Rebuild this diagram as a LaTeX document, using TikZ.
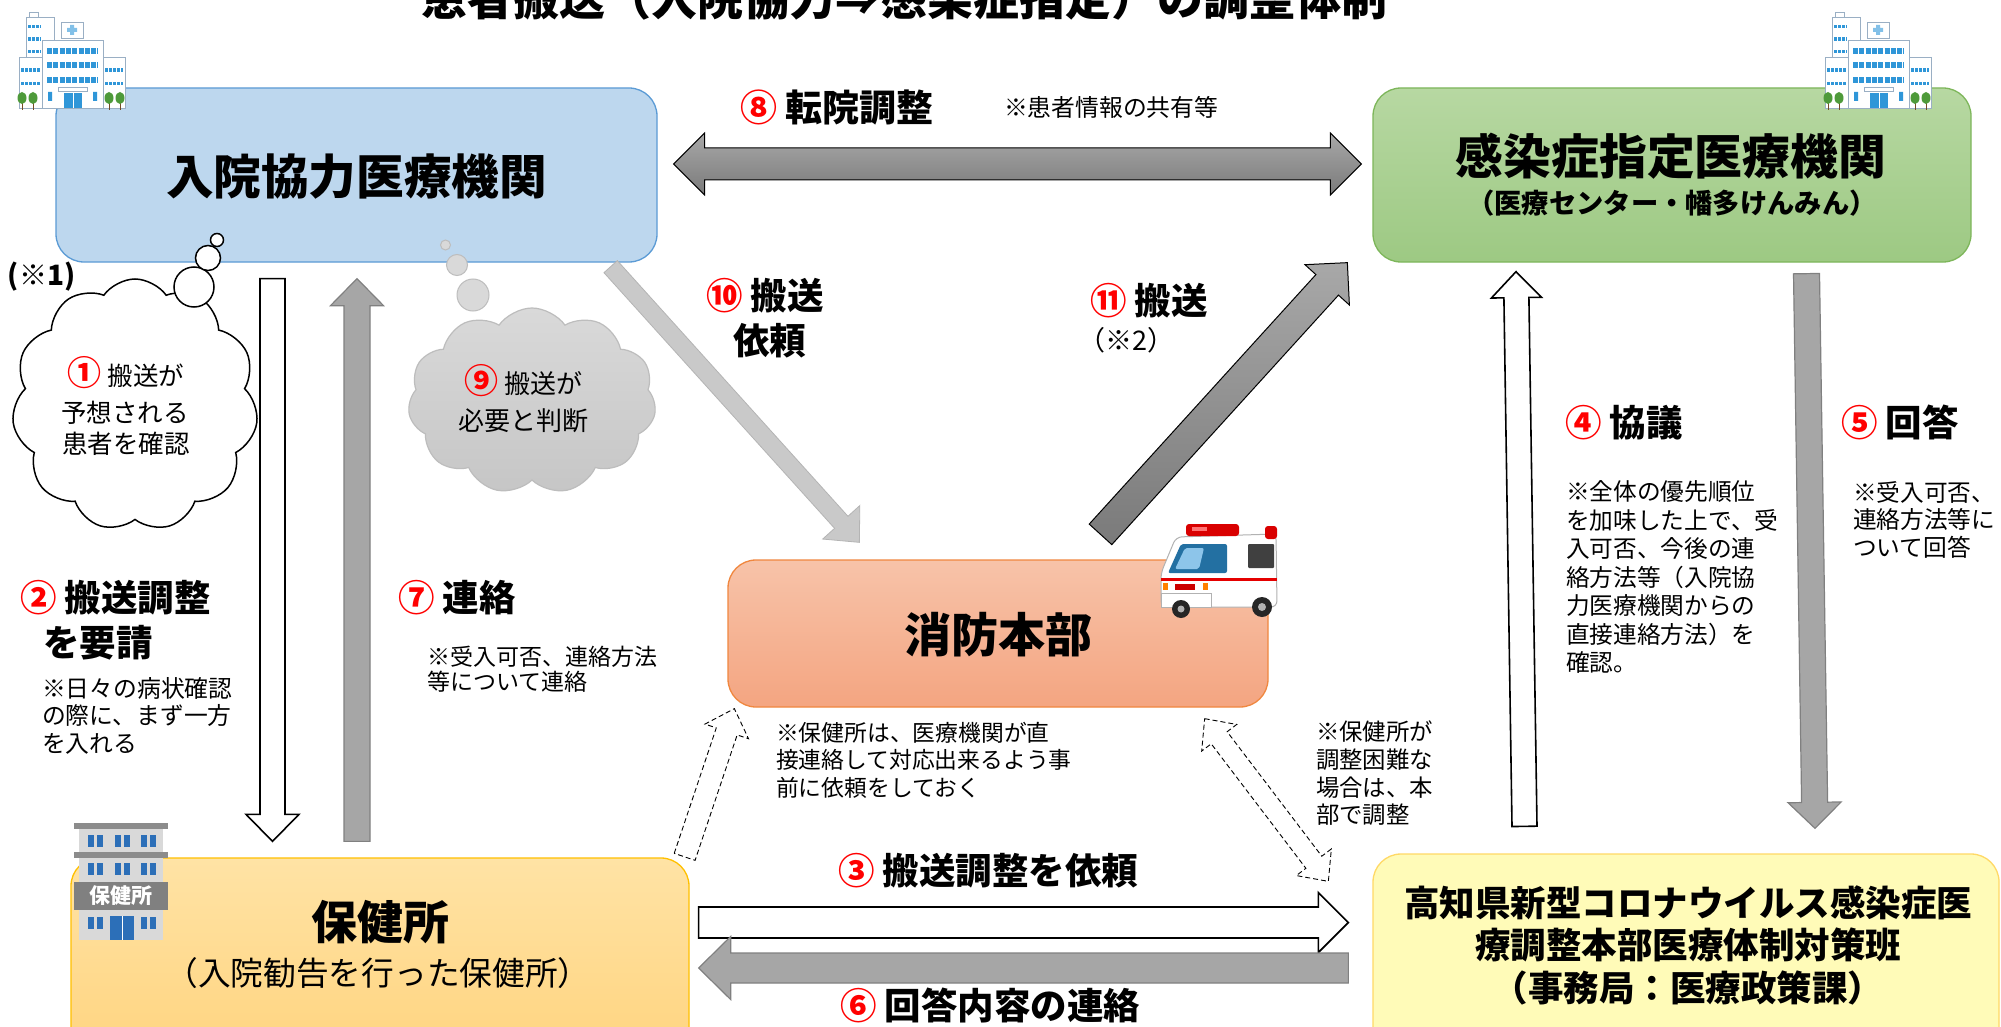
\documentclass[tikz,border=0pt]{standalone}
\usepackage{fontspec}
\setmainfont{Noto Sans CJK JP}
\usetikzlibrary{calc,shapes.symbols}

\definecolor{hospFill}{HTML}{BDD7EE}
\definecolor{hospLine}{HTML}{5B9BD5}
\definecolor{desigTop}{HTML}{B7D8A2}
\definecolor{desigBot}{HTML}{9DC983}
\definecolor{desigLine}{HTML}{7DB65A}
\definecolor{fireTop}{HTML}{F7C3A9}
\definecolor{fireBot}{HTML}{F4A581}
\definecolor{fireLine}{HTML}{F0873F}
\definecolor{hcTop}{HTML}{FFE3A5}
\definecolor{hcBot}{HTML}{FFD47F}
\definecolor{hcLine}{HTML}{FFC000}
\definecolor{prefFill}{HTML}{FFFBB8}
\definecolor{prefLine}{HTML}{FFD966}
\definecolor{numRed}{HTML}{FF0000}
\definecolor{midGray}{HTML}{A6A6A6}
\definecolor{midGrayLine}{HTML}{808080}
\definecolor{darkTop}{HTML}{A8A8A8}
\definecolor{darkBot}{HTML}{7A7A7A}
\definecolor{lightGray}{HTML}{C9C9C9}
\definecolor{lightGrayLine}{HTML}{B4B4B4}
\definecolor{cloudTop}{HTML}{D9D9D9}
\definecolor{cloudBot}{HTML}{C6C6C6}
\definecolor{cloudGrayLine}{HTML}{BDBDBD}
\definecolor{winBlue}{HTML}{2F96D8}
\definecolor{iconLine}{HTML}{9AAFC4}
\definecolor{treeGreen}{HTML}{4E9A3A}
\definecolor{hcGray}{HTML}{D9D9D9}
\definecolor{hcDark}{HTML}{8C8C8C}
\definecolor{hcBlue}{HTML}{2C6FB8}

% red circled step number
\newcommand\cnum[1]{\textcolor{numRed}{#1}}
% block arrow: style, tail, tip, shaft half width, head half width, head length
\newcommand\blockarrow[6]{%
  \coordinate (ba-h) at ($(#3)!#6!(#2)$);
  \path[#1] ($(#2)!#4!90:(#3)$) -- ($(ba-h)!#4!90:(#3)$) -- ($(ba-h)!#5!90:(#3)$) -- (#3)
    -- ($(ba-h)!#5!-90:(#3)$) -- ($(ba-h)!#4!-90:(#3)$) -- ($(#2)!#4!-90:(#3)$) -- cycle;}
% block arrow with a head at both ends
\newcommand\dblarrow[6]{%
  \coordinate (da-a) at ($(#2)!#6!(#3)$);
  \coordinate (da-b) at ($(#3)!#6!(#2)$);
  \path[#1] (#2) -- ($(da-a)!#5!90:(#3)$) -- ($(da-a)!#4!90:(#3)$) -- ($(da-b)!#4!90:(#3)$)
    -- ($(da-b)!#5!90:(#3)$) -- (#3) -- ($(da-b)!#5!-90:(#3)$) -- ($(da-b)!#4!-90:(#3)$)
    -- ($(da-a)!#4!-90:(#3)$) -- ($(da-a)!#5!-90:(#3)$) -- cycle;}
% hospital building, local frame 108 x 98
\newcommand\hospitalicon{%
  \draw[iconLine, fill=white, line width=0.6pt] (10,0) rectangle (19,5);
  \draw[iconLine, fill=white, line width=0.6pt] (7,5) rectangle (35,96);
  \draw[iconLine, fill=white, line width=0.6pt] (42,10) rectangle (64,26);
  \fill[winBlue!60] (51,13) rectangle (55,23) (48,16) rectangle (58,20);
  \draw[iconLine, fill=white, line width=0.6pt] (0,45) rectangle (23,96);
  \draw[iconLine, fill=white, line width=0.6pt] (84,45) rectangle (106,96);
  \draw[iconLine, fill=white, line width=0.6pt] (23,28) rectangle (84,96);
  \foreach \yy in {14.5,27,39.5} {\draw[winBlue, line width=3.5pt, dash pattern=on 3pt off 1pt] (9,\yy) -- (22,\yy);}
  \foreach \yy in {39,53.5,68} {\draw[winBlue, line width=6pt, dash pattern=on 5pt off 1.3pt] (28,\yy) -- (79,\yy);}
  \foreach \yy in {58,71.5} {\draw[winBlue, line width=3.5pt, dash pattern=on 3pt off 1pt] (2,\yy) -- (21,\yy);
                             \draw[winBlue, line width=3.5pt, dash pattern=on 3pt off 1pt] (86,\yy) -- (104,\yy);}
  \draw[iconLine, fill=white, line width=0.6pt] (39,75) rectangle (68,79);
  \fill[winBlue] (45,81) rectangle (63,96);
  \draw[white, line width=0.6pt] (54,81) -- (54,96);
  \fill[winBlue] (29,80) rectangle (33,89) (74,80) rectangle (78,89);
  \foreach \xx in {3,14,90,101} {\draw[brown!60!black, line width=1pt] (\xx,88) -- (\xx,98);
                                 \fill[treeGreen] (\xx,86) ellipse[x radius=4.5, y radius=6];}
}

\begin{document}
\begin{tikzpicture}[x=1pt,y=-1pt,
  txt/.style={inner sep=0pt, outer sep=0pt},
  box/.style={rounded corners=28pt, line width=1.3pt, inner sep=0pt},
  whiteArrow/.style={fill=white, draw=black, line width=1.6pt},
  grayArrow/.style={fill=midGray, draw=midGrayLine, line width=1.2pt},
  darkArrow/.style={top color=darkTop, bottom color=darkBot, draw=black, line width=1pt},
  lightArrow/.style={fill=lightGray, draw=lightGrayLine, line width=0.8pt},
  dashArrow/.style={fill=white, draw=black, line width=0.9pt, dash pattern=on 5pt off 3pt},
  lbl/.style={txt, anchor=base west, font=\bfseries\fontsize{36.5}{44}\selectfont},
  note/.style={txt, anchor=north west, align=left},
  bubbleW/.style={circle, draw=black, fill=white, line width=1.5pt, inner sep=0pt},
  bubbleG/.style={circle, draw=cloudGrayLine, fill=cloudTop, line width=1pt, inner sep=0pt},
]
\useasboundingbox (0,0) rectangle (2001,1027);
\fill[white] (0,0) rectangle (2001,1027);

% title (runs off the top edge)
\node[txt, anchor=base, font=\bfseries\fontsize{46}{50}\selectfont] (title) at (904,16)
  {患者搬送（入院協力⇒感染症指定）の調整体制};

% organisations
\node[box, draw=hospLine, fill=hospFill, minimum width=601pt, minimum height=174pt] (hosp) at (356.5,175) {};
\node[box, draw=desigLine, top color=desigTop, bottom color=desigBot, minimum width=598pt, minimum height=174pt] (desig) at (1672,175) {};
\node[box, draw=fireLine, top color=fireTop, bottom color=fireBot, minimum width=540pt, minimum height=147pt] (fire) at (998,633.5) {};
\node[box, draw=hcLine, top color=hcTop, bottom color=hcBot, minimum width=618pt, minimum height=202pt] (hc) at (380,959) {};
\node[box, draw=prefLine, fill=prefFill, minimum width=626pt, minimum height=206pt] (pref) at (1686,957) {};

\node[txt, anchor=base, font=\bfseries\fontsize{47.6}{50}\selectfont] (hosp-t) at (356.5,195) {入院協力医療機関};
\node[txt, anchor=base, font=\bfseries\fontsize{47.8}{50}\selectfont] (desig-t) at (1671,175) {感染症指定医療機関};
\node[txt, anchor=base, font=\bfseries\fontsize{27.3}{30}\selectfont] (desig-s) at (1672,213) {（医療センター・幡多けんみん）};
\node[txt, anchor=base, font=\bfseries\fontsize{47}{50}\selectfont] (fire-t) at (998,652) {消防本部};
\node[txt, anchor=base, font=\bfseries\fontsize{46}{50}\selectfont] (hc-t) at (380,939.5) {保健所};
\node[txt, anchor=base, font=\fontsize{32.7}{36}\selectfont] (hc-s) at (378,985) {（入院勧告を行った保健所）};
\node[txt, align=center, font=\bfseries\fontsize{35.5}{42.5}\selectfont] (pref-t) at (1688,945)
  {高知県新型コロナウイルス感染症医\\療調整本部医療体制対策班\\（事務局：医療政策課）};

% arrow end points
\coordinate (a8-l) at ($(hosp.east)+(16,-11)$);
\coordinate (a8-r) at ($(desig.west)+(-11,-11)$);
\coordinate (a2-s) at ($(hosp.south)+(-84,16)$);
\coordinate (a2-e) at ($(hc.north)+(-107.5,-16)$);
\coordinate (a7-s) at ($(hc.north)+(-23,-16)$);
\coordinate (a7-e) at ($(hosp.south)+(0.5,16)$);
\coordinate (a4-s) at ($(pref.north)+(-161.5,-27)$);
\coordinate (a4-e) at ($(desig.south)+(-156,9)$);
\coordinate (a5-s) at ($(desig.south)+(134.5,11)$);
\coordinate (a5-e) at ($(pref.north)+(129,-25)$);
\coordinate (a3-s) at ($(hc.east)+(9,-36.5)$);
\coordinate (a3-e) at ($(pref.west)+(-24,-34.5)$);
\coordinate (a6-s) at ($(pref.west)+(-24,11)$);
\coordinate (a6-e) at ($(hc.east)+(9,9)$);
\coordinate (a10-s) at ($(hosp.south east)+(-47,4)$);
\coordinate (a10-e) at ($(fire.north west)+(132,-17)$);
\coordinate (a11-s) at ($(fire.north)+(102.5,-25)$);
\coordinate (a11-e) at ($(desig.south west)+(-25,0)$);
\coordinate (ad1-s) at ($(hc.north east)+(-5,-0.5)$);
\coordinate (ad1-e) at ($(fire.south west)+(7,1)$);
\coordinate (ad2-s) at ($(fire.south east)+(-64,11)$);
\coordinate (ad2-e) at ($(pref.north west)+(-44,28)$);

% arrows
\dblarrow{darkArrow}{a8-l}{a8-r}{16pt}{31pt}{31pt}
\blockarrow{whiteArrow}{a2-s}{a2-e}{12.5pt}{26.5pt}{27pt}
\blockarrow{grayArrow}{a7-s}{a7-e}{13pt}{26.5pt}{27pt}
\blockarrow{whiteArrow}{a4-s}{a4-e}{12.5pt}{25pt}{26pt}
\blockarrow{grayArrow}{a5-s}{a5-e}{13pt}{26.5pt}{26pt}
\blockarrow{whiteArrow}{a3-s}{a3-e}{15.5pt}{30pt}{30pt}
\blockarrow{grayArrow}{a6-s}{a6-e}{15pt}{31.5pt}{32pt}
\blockarrow{lightArrow}{a10-s}{a10-e}{9pt}{25pt}{27pt}
\blockarrow{darkArrow}{a11-s}{a11-e}{15.25pt}{30pt}{30pt}
\blockarrow{dashArrow}{ad1-s}{ad1-e}{11pt}{23pt}{24pt}
\dblarrow{dashArrow}{ad2-s}{ad2-e}{10pt}{22pt}{24pt}

% thought clouds
\node[cloud, cloud puffs=11, cloud puff arc=110, aspect=0.98, minimum width=246pt, minimum height=252pt,
      draw=black, line width=1.5pt, fill=white, inner sep=0pt] (cloud1) at (135,405) {};
\node[bubbleW, minimum size=40pt] (b1c) at (194,287) {};
\node[bubbleW, minimum size=25pt] (b1b) at (208,258) {};
\node[bubbleW, minimum size=13pt] (b1a) at (217,240) {};
\node[cloud, cloud puffs=11, cloud puff arc=110, aspect=1.33, minimum width=248pt, minimum height=186pt,
      draw=cloudGrayLine, line width=1.2pt, top color=cloudTop, bottom color=cloudBot, inner sep=0pt] (cloud9) at (532,401) {};
\node[bubbleG, minimum size=32pt] (b9c) at (473,295) {};
\node[bubbleG, minimum size=21pt] (b9b) at (457,265) {};
\node[bubbleG, minimum size=10pt] (b9a) at (445.5,245) {};

\node[txt, anchor=base, font=\fontsize{25.5}{30}\selectfont] (c1-a) at (126,385)
  {{\bfseries\fontsize{34}{36}\selectfont\cnum{①}} 搬送が};
\node[txt, anchor=base, font=\fontsize{25.5}{30}\selectfont] (c1-b) at (125,422) {予想される};
\node[txt, anchor=base, font=\fontsize{25.5}{30}\selectfont] (c1-c) at (126,453) {患者を確認};
\node[txt, anchor=base, font=\fontsize{26}{30}\selectfont] (c9-a) at (523.5,393)
  {{\bfseries\fontsize{34}{36}\selectfont\cnum{⑨}} 搬送が};
\node[txt, anchor=base, font=\fontsize{26}{30}\selectfont] (c9-b) at (523.5,430) {必要と判断};
\node[txt, anchor=base west, font=\bfseries\fontsize{28}{30}\selectfont] (ref1) at (8,285) {(※1)};

% step labels and notes
\node[lbl, font=\bfseries\fontsize{37}{44}\selectfont] (l8) at (740,122) {\cnum{⑧} 転院調整};
\node[txt, anchor=base west, font=\fontsize{23.8}{28}\selectfont] (n8) at (1004,117) {※患者情報の共有等};
\node[lbl] (l10a) at (706,309) {\cnum{⑩} 搬送};
\node[lbl] (l10b) at (733,354) {依頼};
\node[lbl] (l11) at (1090,314) {\cnum{⑪} 搬送};
\node[txt, anchor=base west, font=\fontsize{27}{30}\selectfont] (ref2) at (1078,350) {（※2）};
\node[lbl] (l2a) at (20,611) {\cnum{②} 搬送調整};
\node[lbl] (l2b) at (43,656) {を要請};
\node[note, font=\fontsize{23.8}{27.5}\selectfont] (n2) at (42,677)
  {※日々の病状確認\\の際に、まず一方\\を入れる};
\node[lbl] (l7) at (398,611) {\cnum{⑦} 連絡};
\node[note, font=\fontsize{23}{25.5}\selectfont] (n7) at (427,646)
  {※受入可否、連絡方法\\等について連絡};
\node[lbl] (l3) at (838,884) {\cnum{③} 搬送調整を依頼};
\node[lbl] (l6) at (840,1019) {\cnum{⑥} 回答内容の連絡};
\node[lbl] (l4) at (1565,436) {\cnum{④} 協議};
\node[note, font=\fontsize{23.7}{28.5}\selectfont] (n4) at (1566,481)
  {※全体の優先順位\\を加味した上で、受\\入可否、今後の連\\絡方法等（入院協\\力医療機関からの\\直接連絡方法）を\\確認。};
\node[lbl] (l5) at (1841,436) {\cnum{⑤} 回答};
\node[note, font=\fontsize{23.7}{27.5}\selectfont] (n5) at (1853,481)
  {※受入可否、\\連絡方法等に\\ついて回答};
\node[note, font=\fontsize{22.8}{27.5}\selectfont] (nf) at (776,722)
  {※保健所は、医療機関が直\\接連絡して対応出来るよう事\\前に依頼をしておく};
\node[note, font=\fontsize{23.4}{27.7}\selectfont] (np) at (1316,721)
  {※保健所が\\調整困難な\\場合は、本\\部で調整};

% hospital buildings
\begin{scope}[shift={(19pt,-12pt)}] \hospitalicon \end{scope}
\begin{scope}[shift={(1825pt,-12pt)}] \hospitalicon \end{scope}

% health centre building
\begin{scope}[shift={(74pt,-823pt)}]
  \fill[hcGray] (5,6) rectangle (89,117);
  \fill[hcDark] (0,0) rectangle (94,6);
  \fill[hcDark] (0,29) rectangle (94,35);
  \foreach \xx in {14,41,67} {
    \fill[hcBlue] (\xx,12) rectangle ++(6,12);
    \fill[hcBlue] (\xx+9,12) rectangle ++(6,12);
    \fill[hcBlue] (\xx,40) rectangle ++(6,12);
    \fill[hcBlue] (\xx+9,40) rectangle ++(6,12);}
  \fill[black!50] (0,59) rectangle (94,87);
  \node[txt, text=white, font=\bfseries\fontsize{21}{22}\selectfont] (hc-sign) at (47,73) {保健所};
  \fill[hcBlue] (14,94) rectangle ++(6,12);
  \fill[hcBlue] (23,94) rectangle ++(6,12);
  \fill[hcBlue] (67,94) rectangle ++(6,12);
  \fill[hcBlue] (76,94) rectangle ++(6,12);
  \fill[hcBlue] (36,93) rectangle (60,117);
  \draw[white, line width=0.8pt] (48,93) -- (48,117);
\end{scope}

% ambulance
\begin{scope}[shift={(1159pt,-523pt)}]
  \draw[black!30, fill=white, line width=1pt, rounded corners=6pt]
    (2,84) -- (2,50) -- (17,14) -- (117,11) -- (118,84) -- cycle;
  \fill[red!85!black, rounded corners=3pt] (27,1) rectangle (80,13);
  \fill[red!55] (33,4) rectangle (48,8);
  \fill[red!85!black, rounded corners=3pt] (106,3) rectangle (118,16);
  \fill[winBlue!75!black, rounded corners=2pt] (9,50) -- (22,21) -- (68,21) -- (68,50) -- cycle;
  \fill[winBlue!55, rounded corners=2pt] (16,46) -- (26,25) -- (45,25) -- (40,46) -- cycle;
  \fill[black!75, rounded corners=1pt] (89,21) rectangle (115,45);
  \fill[red!90!black] (2,55) rectangle (118,58);
  \draw[black!30, fill=white, line width=0.8pt] (2,70) rectangle (52,84);
  \fill[orange] (4,60) rectangle (9,67);
  \fill[orange] (44,60) rectangle (49,67);
  \fill[red!80!black] (16,61) rectangle (36,67);
  \fill[black!85] (22,86) circle[radius=9];
  \fill[black!30] (22,86) circle[radius=3.5];
  \fill[black!85] (103,84) circle[radius=10];
  \fill[black!30] (103,84) circle[radius=4];
\end{scope}
\end{tikzpicture}
\end{document}
